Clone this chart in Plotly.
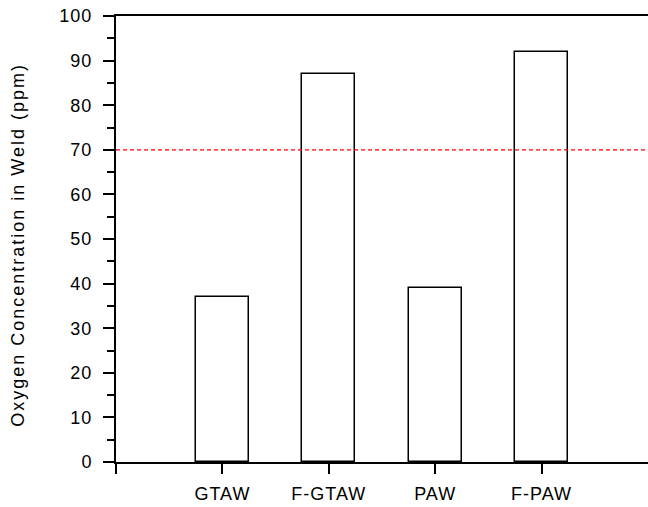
import plotly.graph_objects as go

categories = ["GTAW", "F-GTAW", "PAW", "F-PAW"]
positions = [1, 2, 3, 4]
oxygen_ppm = [37, 87, 39, 92]
limit_ppm = 70
y_title = "Oxygen Concentration in Weld (ppm)"

FONT = "Liberation Sans, Arial, Helvetica, sans-serif"

fig = go.Figure()
fig.add_trace(go.Bar(
    x=positions, y=oxygen_ppm, width=0.5,
    marker=dict(color="white", line=dict(color="black", width=1.5)),
    showlegend=False, hoverinfo="x+y",
))

fig.add_shape(type="line", xref="paper", yref="y", x0=0, x1=1,
              y0=limit_ppm, y1=limit_ppm,
              line=dict(color="red", width=1.3, dash="4px,3px"), layer="above")

W, H = 648, 507
L, R, T, B = 116, 0, 15.5, 45
fig.update_layout(
    width=W, height=H,
    margin=dict(l=L, r=R, t=T, b=B, pad=0),
    plot_bgcolor="white", paper_bgcolor="white",
    font=dict(family=FONT, size=18, color="black"),
    bargap=0,
    xaxis=dict(
        range=[0, 5], tickmode="array", tickvals=[0] + positions,
        ticktext=[""] + categories,
        showline=True, linecolor="black", linewidth=2, mirror=True,
        ticks="outside", ticklen=10, tickwidth=2, tickcolor="black",
        showgrid=False, zeroline=False, fixedrange=True,
        tickfont=dict(size=18), ticklabelstandoff=4,
    ),
    yaxis=dict(
        range=[0, 100], tickmode="linear", tick0=0, dtick=10,
        showline=True, linecolor="black", linewidth=2,
        ticks="outside", ticklen=11, tickwidth=2, tickcolor="black",
        minor=dict(ticks="outside", ticklen=7, tickwidth=2, tickcolor="black", dtick=5),
        showgrid=False, zeroline=False, fixedrange=True,
        tickfont=dict(size=18), ticklabelstandoff=7,
    ),
)

fig.add_annotation(
    text=y_title, xref="paper", yref="paper",
    x=(18 - L) / (W - L - R), y=(H - B - 244.5) / (H - B - T),
    xanchor="center", yanchor="middle", textangle=-90,
    showarrow=False, font=dict(size=18, family=FONT),
)

spacing_js = """
var gd = document.getElementById('{plot_id}');
function applySpacing() {
  gd.querySelectorAll('.xtick text, .ytick text').forEach(function(t){ t.style.letterSpacing = '1px'; });
  gd.querySelectorAll('.annotation-text').forEach(function(t){ t.style.letterSpacing = '2px'; });
}
applySpacing();
gd.on('plotly_afterplot', applySpacing);
"""

fig.write_html("out.html", post_script=spacing_js)
